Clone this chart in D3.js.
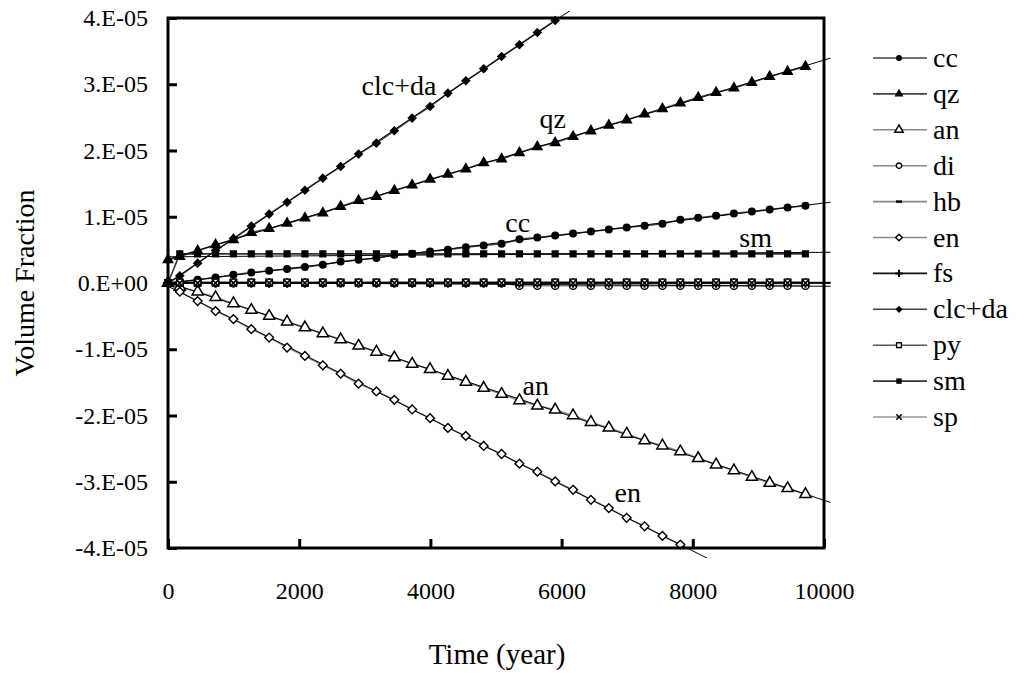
<!DOCTYPE html>
<html>
<head>
<meta charset="utf-8">
<script src="https://cdn.jsdelivr.net/npm/d3@7/dist/d3.min.js"></script>
<style>
  body { margin: 0; background: #fff; }
  svg { display: block; }
  text { font-family: "Liberation Serif", "Times New Roman", serif; fill: #000; }
</style>
</head>
<body>
<svg id="chart" width="1016" height="673" font-family="Liberation Serif, Times New Roman, serif"></svg>
<script>
// Sampling times (years)
const years = [0, 180, 452, 725, 997, 1270, 1542, 1815, 2087, 2360, 2632, 2905, 3177, 3450,
  3722, 3995, 4267, 4540, 4812, 5085, 5357, 5630, 5902, 6175, 6447, 6720, 6992, 7265, 7537,
  7810, 8082, 8355, 8627, 8900, 9172, 9445, 9717];

// Volume fraction change of each mineral, in units of 1e-5
const cc = [0, 0.02, 0.048, 0.083, 0.124, 0.158, 0.184, 0.210, 0.240, 0.275, 0.325, 0.350, 0.376,
  0.426, 0.441, 0.476, 0.501, 0.541, 0.566, 0.592, 0.662, 0.687, 0.717, 0.747, 0.777, 0.808,
  0.838, 0.863, 0.894, 0.954, 0.984, 1.014, 1.049, 1.079, 1.109, 1.139, 1.165];
const qz = [0.35, 0.40, 0.487, 0.577, 0.652, 0.762, 0.82, 0.90, 0.98, 1.055, 1.155, 1.245, 1.306,
  1.396, 1.479, 1.565, 1.640, 1.721, 1.815, 1.872, 1.966, 2.057, 2.117, 2.211, 2.295, 2.38,
  2.46, 2.55, 2.63, 2.715, 2.800, 2.875, 2.942, 3.026, 3.117, 3.192, 3.268];
const an = [0, -0.06, -0.131, -0.217, -0.308, -0.409, -0.5, -0.586, -0.672, -0.763, -0.854,
  -0.949, -1.040, -1.126, -1.222, -1.303, -1.404, -1.495, -1.586, -1.677, -1.773, -1.854,
  -1.914, -2.0, -2.101, -2.187, -2.278, -2.379, -2.455, -2.545, -2.646, -2.742, -2.83, -2.93,
  -3.02, -3.10, -3.19];
const di = [0, 0, 0, 0, 0, 0, 0, 0, 0, 0, 0, 0, 0, 0, 0, 0, 0, 0, 0, 0, -0.04, -0.04, -0.04,
  -0.04, -0.04, -0.04, -0.04, -0.04, -0.04, -0.04, -0.04, -0.04, -0.04, -0.04, -0.04, -0.04, -0.04];
const hb = [0, 0, 0, 0, 0, 0, 0, 0, 0, 0, 0, 0, 0, 0, 0, 0, 0, 0, 0, 0, 0, 0, 0, 0, 0, 0, 0,
  0, 0, 0, 0, 0, 0, 0, 0, 0, 0];
const en = [0, -0.131, -0.273, -0.424, -0.545, -0.697, -0.823, -0.975, -1.101, -1.242, -1.369,
  -1.520, -1.636, -1.763, -1.909, -2.040, -2.187, -2.308, -2.460, -2.581, -2.727, -2.848,
  -2.995, -3.121, -3.273, -3.399, -3.545, -3.672, -3.818, -3.949];
const fs = [0, 0, 0, 0, 0, 0, 0, 0, 0, 0, 0, 0, 0, 0, 0, 0, 0, 0, 0, 0, 0, 0, 0, 0, 0, 0, 0,
  0, 0, 0, 0, 0, 0, 0, 0, 0, 0];
const clcda = [0, 0.11, 0.30, 0.49, 0.67, 0.86, 1.04, 1.22, 1.40, 1.583, 1.758, 1.946, 2.112,
  2.298, 2.489, 2.664, 2.866, 3.052, 3.233, 3.419, 3.596, 3.781, 3.962];
const py = [0, 0.01, 0.01, 0.01, 0.01, 0.01, 0.01, 0.01, 0.01, 0.01, 0.01, 0.01, 0.01, 0.01,
  0.01, 0.01, 0.01, 0.01, 0.01, 0.01, 0.01, 0.01, 0.01, 0.01, 0.01, 0.01, 0.01, 0.01, 0.01,
  0.01, 0.01, 0.01, 0.01, 0.01, 0.01, 0.01, 0.01];
const sm = [0, 0.44, 0.44, 0.44, 0.44, 0.44, 0.44, 0.44, 0.44, 0.44, 0.44, 0.44, 0.44, 0.44,
  0.44, 0.44, 0.44, 0.44, 0.44, 0.44, 0.44, 0.44, 0.44, 0.44, 0.44, 0.44, 0.44, 0.44, 0.44,
  0.44, 0.44, 0.44, 0.44, 0.44, 0.44, 0.44, 0.44];
const sp = [0, 0, 0, 0, 0, 0, 0, 0, 0, 0, 0, 0, 0, 0, 0, 0, 0, 0, 0, 0, 0, 0, 0, 0, 0, 0, 0,
  0, 0, 0, 0, 0, 0, 0, 0, 0, 0];

const seriesNames = ["cc", "qz", "an", "di", "hb", "en", "fs", "clc+da", "py", "sm", "sp"];
const seriesValues = [cc, qz, an, di, hb, en, fs, clcda, py, sm, sp];
const markerTypes = ["dot", "tri", "triOpen", "dotOpen", "dash", "diaOpen", "plus", "dia", "sqOpen", "sq", "cross"];
const lineColors = ["#444", "#444", "#888", "#888", "#888", "#888", "#111", "#444", "#555", "#333", "#999"];

const xTicks = [0, 2000, 4000, 6000, 8000, 10000];
const yTicks = [-4e-5, -3e-5, -2e-5, -1e-5, 0, 1e-5, 2e-5, 3e-5, 4e-5];
const yTickLabels = ["-4.E-05", "-3.E-05", "-2.E-05", "-1.E-05", "0.E+00", "1.E-05", "2.E-05", "3.E-05", "4.E-05"];

// In-plot labels anchored (baseline centre) at data coordinates (year, value in 1e-5)
const annotations = [
  { text: "clc+da", t: 3522, v: 2.841 },
  { text: "qz", t: 5866, v: 2.338 },
  { text: "cc", t: 5332, v: 0.773 },
  { text: "sm", t: 8958, v: 0.542 },
  { text: "an", t: 5606, v: -1.688 },
  { text: "en", t: 7008, v: -3.30 }
];

const svg = d3.select("#chart");
const L = 168, R = 824, T = 18, B = 548;
const x = d3.scaleLinear().domain([0, 10000]).range([L, R]);
const y = d3.scaleLinear().domain([-4e-5, 4e-5]).range([B, T]);
const unit = 1e-5;

const defs = svg.append("defs");
defs.append("clipPath").attr("id", "trendClip")
  .append("rect").attr("x", L - 4).attr("y", 11).attr("width", R - L + 12).attr("height", 547);

// Marker shapes
function drawMarker(g, type, size) {
  const s = size;
  switch (type) {
    case "dot": g.append("circle").attr("r", s * 0.5).attr("fill", "#000"); break;
    case "dotOpen": g.append("circle").attr("r", s * 0.45).attr("fill", "#fff").attr("stroke", "#000").attr("stroke-width", 1.4); break;
    case "tri": g.append("path").attr("d", d3.symbol(d3.symbolTriangle, s * s * 0.95)()).attr("fill", "#000"); break;
    case "triOpen": g.append("path").attr("d", d3.symbol(d3.symbolTriangle, s * s * 0.85)()).attr("fill", "#fff").attr("stroke", "#000").attr("stroke-width", 1.5); break;
    case "dia": g.append("path").attr("d", `M0,${-s*0.6}L${s*0.6},0L0,${s*0.6}L${-s*0.6},0Z`).attr("fill", "#000"); break;
    case "diaOpen": g.append("path").attr("d", `M0,${-s*0.55}L${s*0.55},0L0,${s*0.55}L${-s*0.55},0Z`).attr("fill", "#fff").attr("stroke", "#000").attr("stroke-width", 1.4); break;
    case "sq": g.append("rect").attr("x", -s*0.45).attr("y", -s*0.45).attr("width", s*0.9).attr("height", s*0.9).attr("fill", "#000"); break;
    case "sqOpen": g.append("rect").attr("x", -s*0.4).attr("y", -s*0.4).attr("width", s*0.8).attr("height", s*0.8).attr("fill", "#fff").attr("stroke", "#000").attr("stroke-width", 1.4); break;
    case "dash": g.append("rect").attr("x", -s*0.5).attr("y", -s*0.2).attr("width", s).attr("height", s*0.4).attr("fill", "#000"); break;
    case "plus": g.append("path").attr("d", `M${-s*0.6},0H${s*0.6}M0,${-s*0.6}V${s*0.6}`).attr("stroke", "#000").attr("stroke-width", 2); break;
    case "cross": g.append("path").attr("d", `M${-s*0.45},${-s*0.45}L${s*0.45},${s*0.45}M${s*0.45},${-s*0.45}L${-s*0.45},${s*0.45}`).attr("stroke", "#000").attr("stroke-width", 1.5); break;
  }
}

// Least-squares straight line through a series
function linearFit(ts, vs) {
  const n = vs.length;
  const mt = d3.mean(ts.slice(0, n)), mv = d3.mean(vs);
  let sxy = 0, sxx = 0;
  for (let i = 0; i < n; i++) { sxy += (ts[i] - mt) * (vs[i] - mv); sxx += (ts[i] - mt) ** 2; }
  const slope = sxy / sxx;
  return { slope, intercept: mv - slope * mt };
}

const plot = svg.append("g");
const line = d3.line().x(d => x(d[0])).y(d => y(d[1] * unit));

// Series connecting lines
seriesValues.forEach((vals, k) => {
  const pts = vals.map((v, i) => [years[i], v]);
  plot.append("path").attr("d", line(pts)).attr("fill", "none")
    .attr("stroke", lineColors[k]).attr("stroke-width", 1.6);
});

// Linear trend lines, carried slightly past the last sample
const trendEnd = 10100;
const trendG = plot.append("g").attr("clip-path", "url(#trendClip)");
seriesValues.forEach((vals) => {
  const f = linearFit(years, vals);
  trendG.append("path")
    .attr("d", line([[0, f.intercept], [trendEnd, f.intercept + f.slope * trendEnd]]))
    .attr("fill", "none").attr("stroke", "#000").attr("stroke-width", 1);
});

// Markers
seriesValues.forEach((vals, k) => {
  vals.forEach((v, i) => {
    const g = plot.append("g").attr("transform", `translate(${x(years[i])},${y(v * unit)})`);
    drawMarker(g, markerTypes[k], 8);
  });
});

// Axes with inward ticks
const xAxis = d3.axisBottom(x).tickValues(xTicks).tickFormat(d3.format("d"))
  .tickSizeInner(-9).tickSizeOuter(0).tickPadding(34);
const gx = svg.append("g").attr("transform", `translate(0,${B})`).call(xAxis);
const yAxis = d3.axisLeft(y).tickValues(yTicks).tickFormat((d, i) => yTickLabels[i])
  .tickSizeInner(-9).tickSizeOuter(0).tickPadding(20);
const gy = svg.append("g").attr("transform", `translate(${L},0)`).call(yAxis);
[gx, gy].forEach(g => {
  g.attr("font-family", null).attr("font-size", null);
  g.select(".domain").remove();
  g.selectAll(".tick line").attr("stroke", "#000").attr("stroke-width", 3);
  g.selectAll(".tick text").attr("font-size", 24).attr("fill", "#000");
});

// Plot frame
svg.append("rect").attr("x", L).attr("y", T).attr("width", R - L).attr("height", B - T)
  .attr("fill", "none").attr("stroke", "#000").attr("stroke-width", 3);

// Axis titles
svg.append("text").attr("x", 497).attr("y", 664).attr("text-anchor", "middle")
  .attr("font-size", 29).text("Time (year)");
svg.append("text").attr("transform", `translate(34,${(T + B) / 2}) rotate(-90)`)
  .attr("text-anchor", "middle").attr("font-size", 28).text("Volume Fraction");

// In-plot series labels
annotations.forEach(a => {
  svg.append("text").attr("x", x(a.t)).attr("y", y(a.v * unit)).attr("text-anchor", "middle")
    .attr("font-size", 28).text(a.text);
});

// Legend
const legend = svg.append("g");
seriesNames.forEach((name, k) => {
  const cy = 58 + k * 35.9;
  legend.append("line").attr("x1", 873).attr("x2", 927).attr("y1", cy).attr("y2", cy)
    .attr("stroke", lineColors[k]).attr("stroke-width", 1.6);
  const g = legend.append("g").attr("transform", `translate(899,${cy})`);
  drawMarker(g, markerTypes[k], 6);
  legend.append("text").attr("x", 933).attr("y", cy + 9).attr("font-size", 28).text(name);
});
</script>
</body>
</html>
